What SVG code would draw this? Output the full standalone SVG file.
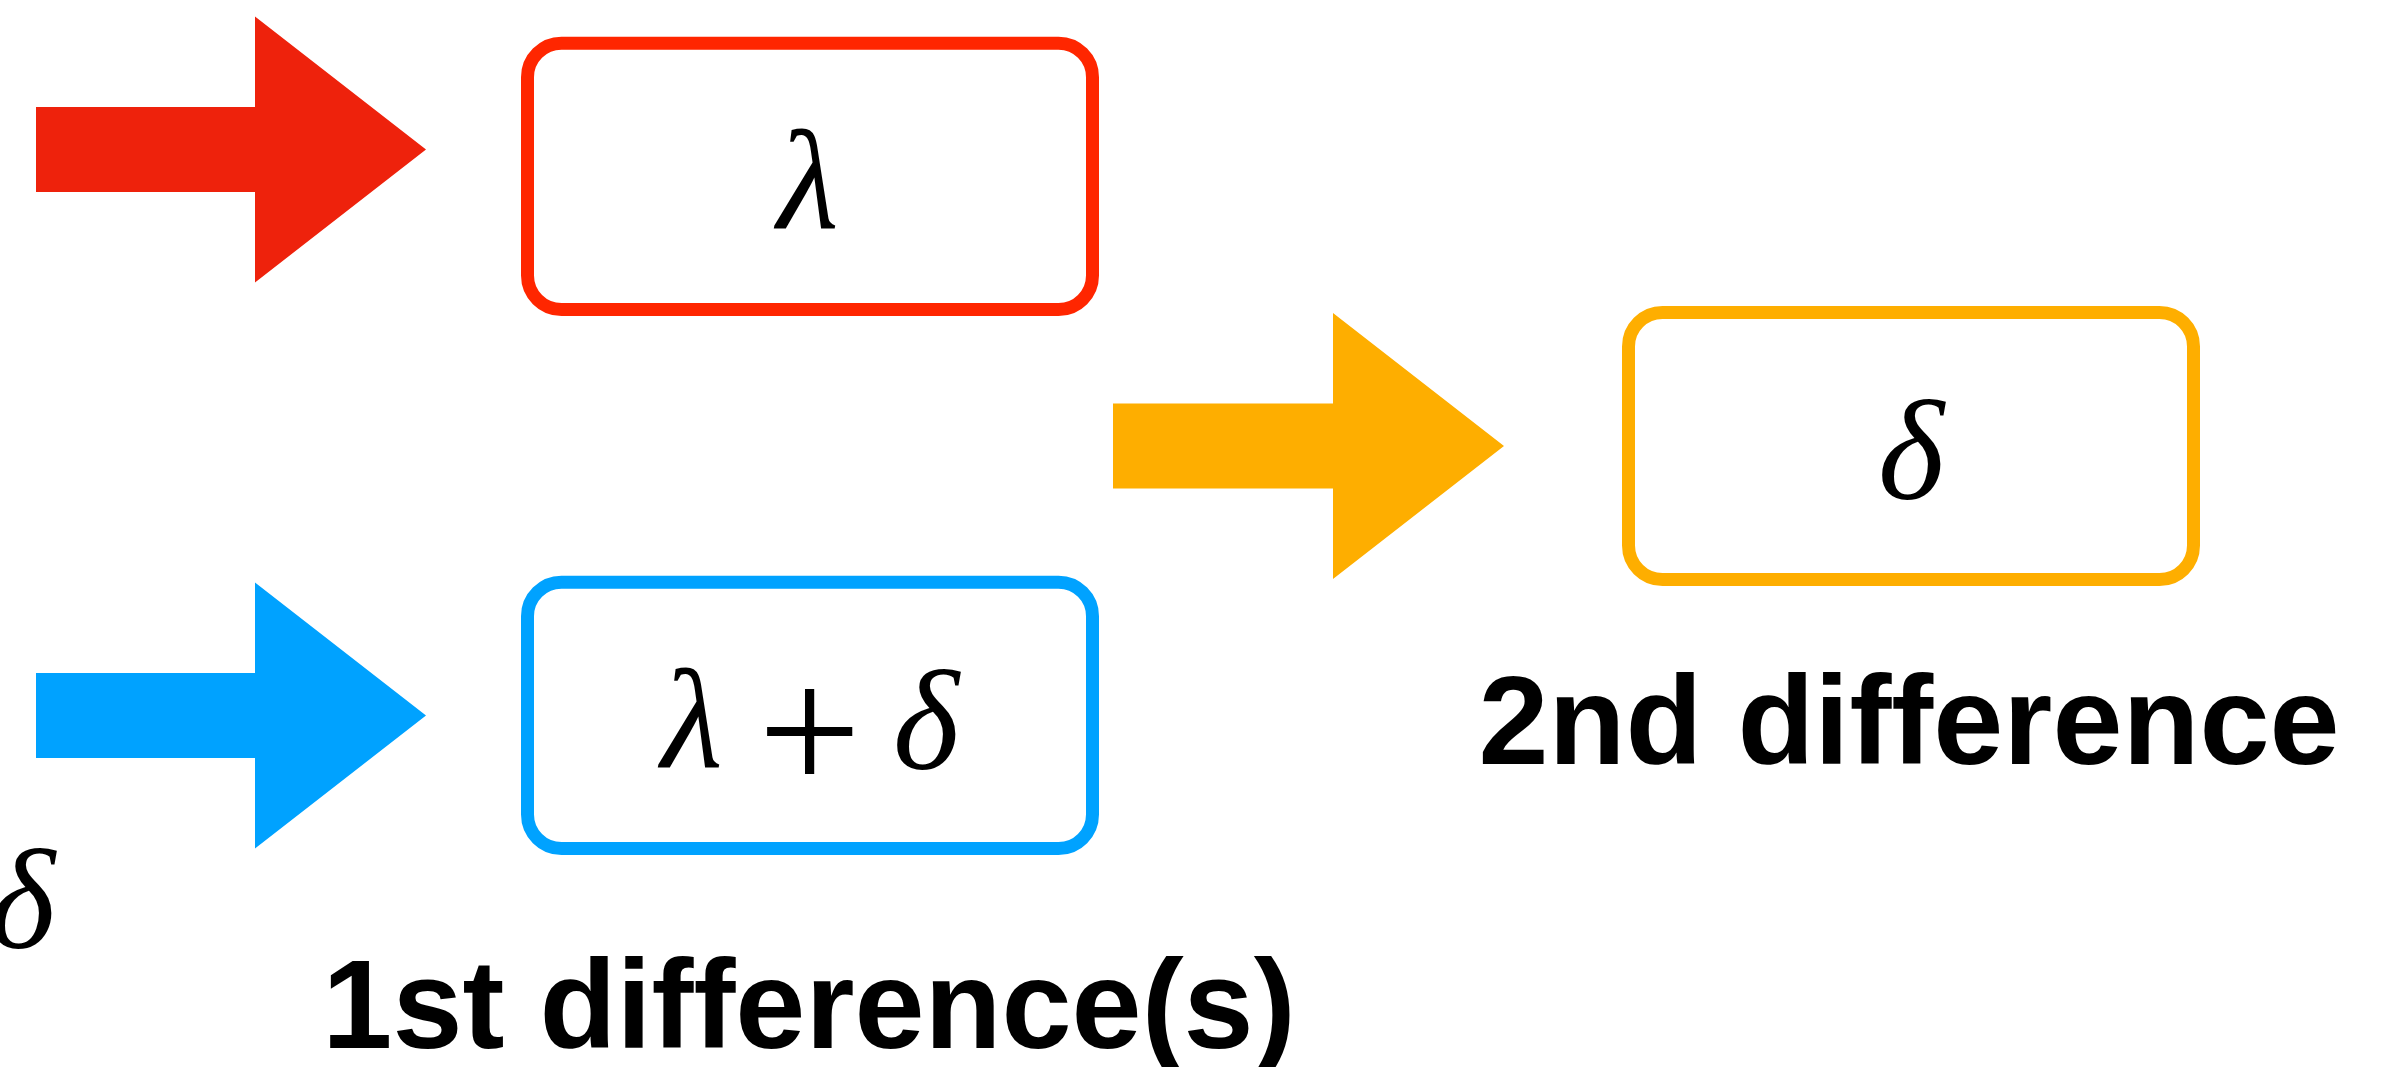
<svg xmlns="http://www.w3.org/2000/svg" width="2392" height="1067" viewBox="0 0 2392 1067">
<style>
.box{fill:#fff;stroke-width:13}
.math{font-family:"Liberation Serif","Times New Roman",serif;font-style:italic;font-size:142px;fill:#000;text-anchor:middle}
.op{font-family:"Liberation Serif","Times New Roman",serif;font-size:183px;fill:#000;text-anchor:middle}
.lbl{font-family:"Liberation Sans",Arial,sans-serif;font-weight:bold;font-size:126px;fill:#000;text-anchor:middle}
</style>
<rect width="2392" height="1067" fill="#fff"/>
<g id="connectors">
<polygon id="arrow-red" fill="#EE220C" points="36,107 255,107 255,16.5 426,149.5 255,282.5 255,192 36,192"/>
<polygon id="arrow-blue" fill="#00A2FF" points="36,673 255,673 255,582.5 426,715.5 255,848.5 255,758 36,758"/>
<polygon id="arrow-orange" fill="#FEAE00" points="1113,403.5 1333,403.5 1333,313 1504,446 1333,579 1333,488.5 1113,488.5"/>
</g>
<g id="node-lambda">
<rect class="box" stroke="#FF2600" x="527.5" y="43.2" width="565" height="266.3" rx="34"/>
<text class="math" x="808" y="229">λ</text>
</g>
<g id="node-lambda-plus-delta">
<rect class="box" stroke="#00A2FF" x="527.5" y="582.2" width="565" height="266.3" rx="34"/>
<text class="math" x="692" y="768">λ</text>
<text class="op" x="809.5" y="792">+</text>
<text class="math" x="926" y="769">δ</text>
</g>
<g id="node-delta">
<rect class="box" stroke="#FEAE00" x="1628.5" y="312.5" width="565" height="267" rx="34"/>
<text class="math" x="1911" y="499">δ</text>
</g>
<g id="label-delta">
<text class="math" x="22" y="948">δ</text>
</g>
<g id="label-first">
<text class="lbl" x="809" y="1048">1st difference(s)</text>
</g>
<g id="label-second">
<text class="lbl" x="1909" y="764">2nd difference</text>
</g>
</svg>
